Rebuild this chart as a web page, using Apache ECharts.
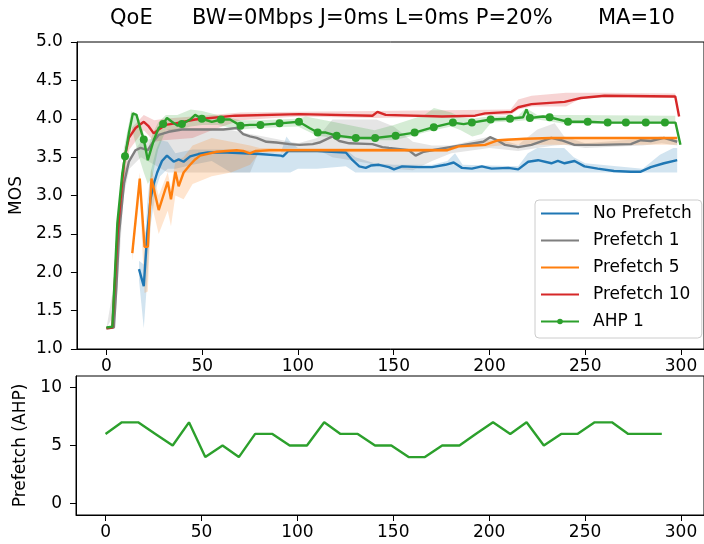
<!DOCTYPE html>
<html>
<head>
<meta charset="utf-8">
<script src="https://cdn.jsdelivr.net/npm/echarts@6/dist/echarts.min.js"></script>
<style>html,body{margin:0;padding:0;background:#fff}#c{width:704px;height:544px}</style>
</head>
<body>
<div id="c"></div>
<script>
// ---- data ----
const xTicks = [0, 50, 100, 150, 200, 250, 300];
const mosTicks = [1, 1.5, 2, 2.5, 3, 3.5, 4, 4.5, 5];
const ahpTicks = [0, 5, 10];
const seriesNames = ['No Prefetch', 'Prefetch 1', 'Prefetch 5', 'Prefetch 10', 'AHP 1'];

const noPrefetch = [[17,2.04],[19.5,1.82],[21.3,2.5],[23,2.95],[24.7,3.15],[26.5,3.3],[29,3.45],[31.6,3.52],[35.1,3.44],[37.7,3.47],[40.3,3.44],[43.7,3.51],[48,3.54],[53,3.56],[63,3.56],[80,3.54],[91,3.52],[92.2,3.51],[95,3.58],[110,3.58],[125,3.56],[128.5,3.46],[132,3.38],[135.4,3.36],[138,3.39],[142.3,3.40],[147.5,3.37],[150.1,3.34],[154.4,3.38],[163,3.37],[170,3.37],[177,3.40],[181.3,3.43],[185.6,3.36],[190.8,3.35],[196,3.38],[201.1,3.35],[209.8,3.36],[215,3.34],[220.2,3.44],[225.4,3.46],[232.3,3.42],[235.7,3.45],[239.2,3.42],[244.4,3.45],[249.6,3.38],[256.5,3.35],[265,3.32],[273.8,3.31],[279,3.31],[284.2,3.37],[291.1,3.42],[298,3.46]];
const noPrefetchBand = [[17,1.9,2.15],[19.5,1.27,2.1],[21.3,1.9,2.9],[23,2.6,3.3],[26,3.1,3.6],[28,3.25,3.72],[32,3.35,3.7],[36,3.35,3.55],[45,3.4,3.6],[55,3.45,3.6],[65,3.3,3.6],[80,3.3,3.58],[91,3.3,3.56],[94,3.3,3.77],[96,3.3,3.7],[100,3.35,3.62],[110,3.35,3.6],[125,3.38,3.6],[130,3.3,3.5],[140,3.3,3.42],[150,3.3,3.4],[170,3.3,3.4],[178,3.3,3.45],[182,3.3,3.55],[186,3.3,3.4],[215,3.3,3.38],[220,3.3,3.55],[225,3.3,3.62],[239,3.3,3.62],[244,3.3,3.5],[250,3.3,3.42],[280,3.3,3.35],[289,3.3,3.53],[296,3.3,3.62],[298,3.3,3.62]];

const prefetch1 = [[0,1.27],[3.9,1.28],[5.2,1.81],[6.6,2.51],[9.2,3.16],[11.7,3.44],[15.2,3.59],[17.8,3.62],[21.6,3.59],[23.9,3.68],[27.3,3.79],[32.5,3.83],[39.4,3.86],[51.5,3.86],[61,3.86],[68,3.88],[71.4,3.8],[74.9,3.77],[78.4,3.75],[83.5,3.70],[88.7,3.69],[95.6,3.67],[100.8,3.66],[107.7,3.67],[111.2,3.69],[116.4,3.75],[118.1,3.77],[121.6,3.71],[126.8,3.68],[138.9,3.67],[144.1,3.63],[147.5,3.62],[157.9,3.59],[161.4,3.52],[165.7,3.57],[177,3.62],[196.8,3.70],[200.3,3.76],[204,3.72],[208.1,3.66],[215,3.63],[221.9,3.66],[232.3,3.75],[237.5,3.72],[244.4,3.66],[256.5,3.66],[273.8,3.67],[279,3.72],[284.2,3.71],[291.1,3.75],[298,3.70]];
const prefetch1Band = [[0,1.27,1.27],[5,1.5,2.0],[9,3.0,3.3],[12,3.35,3.5],[18,3.5,3.7],[25,3.4,3.75],[32,3.3,3.86],[40,3.3,3.88],[60,3.3,3.88],[75,3.3,3.8],[80,3.6,3.78],[100,3.62,3.68],[110,3.6,3.75],[118,3.5,3.99],[130,3.45,3.99],[141,3.4,3.99],[150,3.35,3.9],[160,3.33,3.7],[170,3.45,3.65],[180,3.55,3.65],[200,3.62,3.77],[215,3.58,3.66],[225,3.62,3.86],[234,3.65,3.94],[239,3.66,3.77],[250,3.62,3.68],[280,3.65,3.74],[290,3.68,3.77],[298,3.65,3.72]];

const prefetch5 = [[13.5,2.25],[17.4,3.22],[19.9,2.33],[21.6,2.33],[23.5,3.22],[27.3,2.81],[32,3.18],[33.7,2.95],[36,3.31],[37.7,3.12],[40.3,3.30],[43.7,3.40],[46.3,3.47],[48.9,3.52],[57.6,3.57],[68,3.59],[71.4,3.58],[74.9,3.55],[78,3.58],[85,3.59],[178,3.59],[183.8,3.64],[197.7,3.66],[204.6,3.72],[218.5,3.74],[232.3,3.75],[298,3.75]];
const prefetch5Band = [[13.5,2.15,2.35],[17.4,3.0,3.3],[19.9,1.73,2.5],[21.6,1.75,2.6],[23.5,2.9,3.35],[27.3,2.5,3.0],[32,2.8,3.3],[33.7,2.6,3.1],[36,3.0,3.45],[40.3,2.95,3.5],[45,3.15,3.65],[55,3.25,3.75],[65,3.3,3.7],[75,3.4,3.65],[80,3.56,3.62],[178,3.57,3.62],[184,3.62,3.66],[200,3.64,3.72],[210,3.66,3.75],[298,3.66,3.75]];

const prefetch10 = [[0,1.27],[3.1,1.28],[5.8,2.5],[8.3,3.2],[9.5,3.5],[11.7,3.75],[15.2,3.88],[19.5,3.96],[22.1,3.90],[24.7,3.81],[27.3,3.86],[30.8,3.92],[36,3.94],[46.3,3.99],[67.1,4.04],[100.8,4.06],[138.9,4.04],[141.5,4.09],[145.8,4.05],[175.2,4.03],[192.5,4.04],[197.7,4.07],[211.5,4.09],[215,4.15],[221.9,4.19],[239.2,4.22],[247.8,4.27],[260,4.30],[297,4.29],[299,4.03]];
const prefetch10Band = [[8,3.0,3.2],[12,3.6,3.85],[19.5,3.85,4.05],[25,3.7,3.98],[30,3.72,4.0],[45,3.75,4.03],[55,3.85,4.05],[70,3.98,4.08],[100,4.03,4.09],[140,4.01,4.1],[211,4.05,4.12],[215,4.12,4.25],[222,4.16,4.3],[240,4.16,4.34],[248,4.27,4.34],[260,4.28,4.34],[297,4.27,4.33]];

const ahp1 = [[0,1.28],[3.1,1.29],[5.7,2.64],[8.3,3.29],[9.7,3.51],[11.7,3.81],[13.8,4.07],[15.7,4.05],[17.8,3.86],[19.5,3.73],[21.6,3.46],[24.7,3.72],[27.3,3.88],[29.6,3.93],[31.6,4.01],[34.2,3.96],[37.2,3.91],[39.4,3.93],[43.7,3.99],[46.3,4.05],[49.8,4.00],[55,3.96],[59.8,3.99],[64.5,3.99],[70,3.91],[74.9,3.92],[80.4,3.92],[90.4,3.94],[100.5,3.96],[106,3.88],[110.3,3.82],[114.6,3.82],[120.2,3.78],[130.2,3.75],[140.3,3.75],[151,3.78],[160.9,3.82],[170.9,3.89],[180.9,3.95],[186.5,3.93],[190.8,3.95],[200.6,3.99],[210.7,4.0],[217.5,4.02],[219.3,4.12],[221.1,4.01],[228,4.03],[231.4,4.02],[241,3.96],[251.3,3.96],[261.7,3.95],[271.2,3.95],[281.6,3.95],[291.6,3.95],[297.1,3.95],[299.7,3.66]];
const ahp1MarkerX = [9.7,19.5,29.6,39.4,49.8,59.8,70,80.4,90.4,100.5,110.3,120.2,130.2,140.3,151,160.9,170.9,180.9,190.8,200.6,210.7,221.1,231.4,241,251.3,261.7,271.2,281.6,291.6];
const ahp1Band = [[9,3.2,3.6],[13,3.9,4.1],[17,3.5,4.0],[19.5,3.3,3.8],[21.6,3.15,3.6],[24,3.25,3.8],[27,3.6,3.95],[31,3.85,4.05],[37,3.85,4.05],[44,3.9,4.12],[50,3.92,4.1],[58,3.92,4.05],[70,3.86,3.98],[80,3.88,3.98],[100,3.9,4.0],[104,3.85,4.03],[110,3.78,4.0],[120,3.75,3.95],[140,3.72,3.85],[150,3.72,3.92],[160,3.78,4.0],[166,3.82,4.05],[171,3.85,4.14],[180,3.9,4.08],[185,3.85,4.02],[191,3.77,4.0],[196,3.8,4.02],[201,3.95,4.03],[215,3.97,4.04],[219,3.98,4.14],[225,3.99,4.05],[240,3.93,4.05],[297,3.93,4.04]];

const ahpPrefetchX = [0,8.5,17,26,35,43.5,52,61,69.5,78,87,96,105,114,122.5,131.5,140.5,149,158,166.5,175.5,184.5,193,202,211,219.5,228.5,237.5,246,255,264,272.5,281,290];
const ahpPrefetchVal = [6,7,7,6,5,7,4,5,4,6,6,5,5,7,6,6,5,5,4,4,5,5,6,7,6,7,5,6,6,7,7,6,6,6];

// ---- chart ----
const colors = ['#1f77b4', '#7f7f7f', '#ff7f0e', '#d62728', '#2ca02c'];
const bandColors = ['rgba(31,119,180,0.2)', 'rgba(127,127,127,0.2)', 'rgba(255,127,14,0.2)', 'rgba(214,39,40,0.2)', 'rgba(44,160,44,0.2)'];
const lines = [noPrefetch, prefetch1, prefetch5, prefetch10, ahp1];
const bands = [noPrefetchBand, prefetch1Band, prefetch5Band, prefetch10Band, ahp1Band];
const FONT = 'DejaVu Sans';
const X_MIN = -15.4, X_MAX = 312;

const series = [];
bands.forEach((b, i) => {
  series.push({
    type: 'custom', xAxisIndex: 0, yAxisIndex: 0, silent: true, z: 1, clip: true,
    data: b,
    encode: { x: 0, y: [1, 2] },
    renderItem: function (params, api) {
      if (params.dataIndex !== 0) return null;
      const upper = b.map(d => api.coord([d[0], d[2]]));
      const lower = b.map(d => api.coord([d[0], d[1]])).reverse();
      return { type: 'polygon', shape: { points: upper.concat(lower) }, style: { fill: bandColors[i], stroke: null } };
    }
  });
});
lines.forEach((l, i) => {
  const isAhp = i === 4;
  series.push({
    name: seriesNames[i], type: 'line', xAxisIndex: 0, yAxisIndex: 0,
    symbol: isAhp ? 'circle' : 'none', symbolSize: 8, showSymbol: isAhp,
    color: colors[i], lineStyle: { width: 2.4, color: colors[i] }, itemStyle: { color: colors[i] },
    data: isAhp ? l.map(d => ahp1MarkerX.indexOf(d[0]) >= 0 ? { value: d } : { value: d, symbol: 'none' }) : l,
    z: 3, silent: true
  });
});
series.push({
  type: 'line', xAxisIndex: 1, yAxisIndex: 1, symbol: 'none', silent: true,
  lineStyle: { width: 2.4, color: colors[4] },
  data: ahpPrefetchX.map((x, k) => [x, ahpPrefetchVal[k]])
});

const axisCommon = {
  axisLine: { show: true, onZero: false, lineStyle: { color: '#000', width: 1 } },
  splitLine: { show: false },
};
const titleStyle = { fontFamily: FONT, fontSize: 21, fontWeight: 'normal', color: '#000' };
const chart = echarts.init(document.getElementById('c'), null, { renderer: 'canvas' });
chart.setOption({
  animation: false,
  backgroundColor: '#fff',
  title: [
    { text: 'QoE', left: 110, top: 8, padding: 0, textStyle: titleStyle },
    { text: 'BW=0Mbps J=0ms L=0ms P=20%', left: 192, top: 8, padding: 0, textStyle: titleStyle },
    { text: 'MA=10', left: 598, top: 8, padding: 0, textStyle: titleStyle }
  ],
  grid: [
    { left: 76, top: 42, width: 631, height: 307, show: true, borderColor: '#000', borderWidth: 1, backgroundColor: 'transparent' },
    { left: 76, top: 376, width: 631, height: 139, show: true, borderColor: '#000', borderWidth: 1, backgroundColor: 'transparent' }
  ],
  legend: {
    orient: 'vertical', left: 535, top: 200, itemWidth: 38, itemHeight: 7, itemGap: 10,
    padding: [5, 10, 8, 5], backgroundColor: 'rgba(255,255,255,0.8)', borderColor: '#ccc', borderWidth: 1, borderRadius: 4,
    textStyle: { fontFamily: FONT, fontSize: 17, color: '#000', padding: [0, 0, 0, 9] },
    data: seriesNames.map((n, i) => i === 4 ? { name: n } : { name: n, itemStyle: { opacity: 0 } })
  },
  xAxis: [
    Object.assign({}, axisCommon, {
      type: 'value', gridIndex: 0, min: X_MIN, max: X_MAX,
      axisTick: { show: true, length: 6, customValues: xTicks, lineStyle: { color: '#000' } },
      axisLabel: { customValues: xTicks, fontFamily: FONT, fontSize: 17, color: '#000', margin: 9 }
    }),
    Object.assign({}, axisCommon, {
      type: 'value', gridIndex: 1, min: X_MIN, max: X_MAX,
      axisTick: { show: true, length: 6, customValues: xTicks, lineStyle: { color: '#000' } },
      axisLabel: { customValues: xTicks, fontFamily: FONT, fontSize: 17, color: '#000', margin: 9 }
    })
  ],
  yAxis: [
    Object.assign({}, axisCommon, {
      type: 'value', gridIndex: 0, min: 1, max: 5,
      name: 'MOS', nameLocation: 'middle', nameGap: 51,
      nameTextStyle: { fontFamily: FONT, fontSize: 17, color: '#000' },
      axisTick: { show: true, length: 6, customValues: mosTicks, lineStyle: { color: '#000' } },
      axisLabel: { customValues: mosTicks, fontFamily: FONT, fontSize: 17, color: '#000', margin: 14, formatter: v => v.toFixed(1) }
    }),
    Object.assign({}, axisCommon, {
      type: 'value', gridIndex: 1, min: -1, max: 11,
      name: 'Prefetch (AHP)', nameLocation: 'middle', nameGap: 43,
      nameTextStyle: { fontFamily: FONT, fontSize: 17, color: '#000' },
      axisTick: { show: true, length: 6, customValues: ahpTicks, lineStyle: { color: '#000' } },
      axisLabel: { customValues: ahpTicks, fontFamily: FONT, fontSize: 17, color: '#000', margin: 14 }
    })
  ],
  series: series
});
</script>
</body>
</html>
